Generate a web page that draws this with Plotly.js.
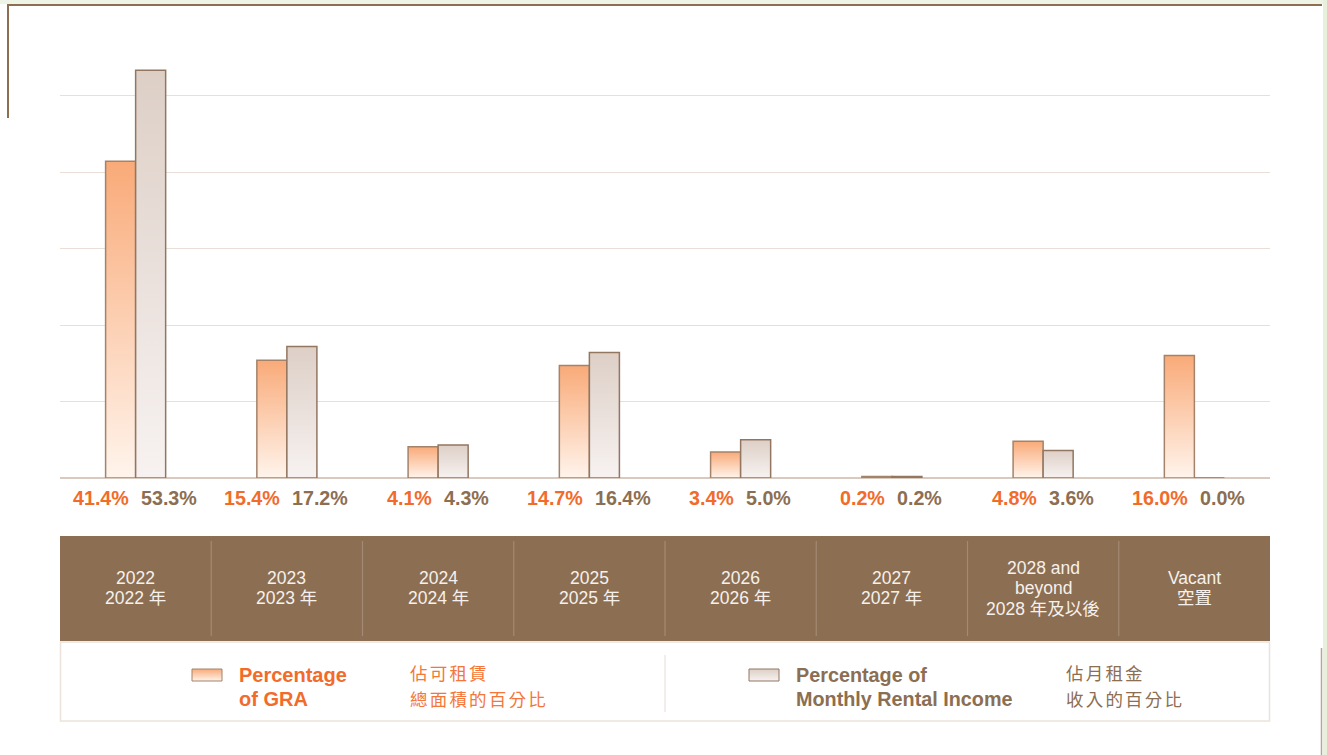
<!DOCTYPE html>
<html>
<head>
<meta charset="utf-8">
<script src="https://cdn.plot.ly/plotly-3.0.1.min.js"></script>
<style>
  html, body { margin: 0; padding: 0; background: #ffffff; }
  #chart { width: 1327px; height: 755px; }
</style>
</head>
<body>
<div id="chart"></div>
<script>
// ---- data ----
const categories = ['2022', '2023', '2024', '2025', '2026', '2027', '2028+', 'Vacant'];
const tableLabels = [
  '2022<br>2022 年',
  '2023<br>2023 年',
  '2024<br>2024 年',
  '2025<br>2025 年',
  '2026<br>2026 年',
  '2027<br>2027 年',
  '2028 and<br>beyond<br>2028 年及以後',
  'Vacant<br>空置'
];
const graPct = [41.4, 15.4, 4.1, 14.7, 3.4, 0.2, 4.8, 16.0];
const rentPct = [53.3, 17.2, 4.3, 16.4, 5.0, 0.2, 3.6, 0.0];
const legendGRA = 'Percentage<br>of GRA';
const legendGRAzh = '佔可租賃<br>總面積的百分比';
const legendRent = 'Percentage of<br>Monthly Rental Income';
const legendRentzh = '佔月租金<br>收入的百分比';

// ---- layout helpers (pixel -> paper) ----
const PL = 60, PR = 1270, PT = 40, PB = 478;
const px = x => (x - PL) / (PR - PL);
const py = y => (PB - y) / (PB - PT);

const ORANGE = '#F26B2A';
const BROWN = '#8C6E52';
const FONT = '"Liberation Sans", Arial, "Noto Sans CJK TC", sans-serif';
const CJK = '"Noto Sans CJK TC", "Liberation Sans", sans-serif';

const data = [
  { type: 'bar', x: categories, y: graPct, name: 'GRA',
    marker: { color: '#FBC9A6', line: { color: '#A4836A', width: 1.5 } },
    hoverinfo: 'skip' },
  { type: 'bar', x: categories, y: rentPct, name: 'Rent',
    marker: { color: '#E9DFD9', line: { color: '#937660', width: 1.5 } },
    hoverinfo: 'skip' }
];

const annotations = [];
categories.forEach((c, i) => {
  annotations.push({ x: i, y: 0, xref: 'x', yref: 'y', yshift: -20, xshift: -4.5, xanchor: 'right',
    text: graPct[i].toFixed(1) + '%', showarrow: false,
    font: { family: FONT, size: 19.7, color: ORANGE, weight: 'bold' } });
  annotations.push({ x: i, y: 0, xref: 'x', yref: 'y', yshift: -20, xshift: 3.5, xanchor: 'left',
    text: rentPct[i].toFixed(1) + '%', showarrow: false,
    font: { family: FONT, size: 19.7, color: BROWN, weight: 'bold' } });
  const lines = tableLabels[i].split('<br>');
  const lh = 20.5;
  const start = 588 - (lines.length - 1) * lh / 2;
  lines.forEach((ln, j) => {
    annotations.push({ x: i, y: py(start + j * lh), xref: 'x', yref: 'paper', yanchor: 'middle',
      text: ln, showarrow: false,
      font: { family: FONT, size: 17.5, color: '#F6F1EC' } });
  });
});

const spacedIdx = [];
function legendText(txt, xPix, yPixes, font, spaced) {
  txt.split('<br>').forEach((ln, j) => {
    if (spaced) spacedIdx.push(annotations.length);
    annotations.push({ x: px(xPix), y: py(yPixes[j]), xref: 'paper', yref: 'paper',
      xanchor: 'left', yanchor: 'middle', align: 'left', text: ln, showarrow: false, font: font });
  });
}
legendText(legendGRA, 237, [675, 699], { family: FONT, size: 20, color: ORANGE, weight: 'bold' }, false);
legendText(legendGRAzh, 408, [672, 698], { family: CJK, size: 17.5, color: '#F4773A' }, true);
legendText(legendRent, 794, [675, 699], { family: FONT, size: 19.8, color: BROWN, weight: 'bold' }, false);
legendText(legendRentzh, 1064, [672, 698], { family: CJK, size: 17.5, color: BROWN }, true);

const shapes = [];
// brown table band
shapes.push({ type: 'rect', xref: 'paper', yref: 'paper', x0: px(60), x1: px(1270), y0: py(641), y1: py(536),
  fillcolor: '#8C6E52', line: { width: 0 } });
for (let k = 1; k < categories.length; k++) {
  const xx = PL + (PR - PL) / categories.length * k;
  shapes.push({ type: 'line', xref: 'paper', yref: 'paper', x0: px(xx), x1: px(xx), y0: py(636), y1: py(541),
    line: { color: '#A48A74', width: 1.2 } });
}
// legend box
shapes.push({ type: 'rect', xref: 'paper', yref: 'paper', x0: px(60.5), x1: px(1269.5), y0: py(721), y1: py(642),
  fillcolor: 'rgba(0,0,0,0)', line: { color: '#ECE3DD', width: 1.5 } });
shapes.push({ type: 'line', xref: 'paper', yref: 'paper', x0: px(665), x1: px(665), y0: py(712), y1: py(655),
  line: { color: '#E6DDD7', width: 1 } });
// legend swatches
shapes.push({ type: 'rect', xref: 'paper', yref: 'paper', x0: px(192), x1: px(222), y0: py(681), y1: py(669),
  fillcolor: 'rgb(250, 171, 121)', line: { color: '#A4836A', width: 1 } });
shapes.push({ type: 'rect', xref: 'paper', yref: 'paper', x0: px(749), x1: px(779), y0: py(681), y1: py(669),
  fillcolor: 'rgb(222, 209, 200)', line: { color: '#937660', width: 1 } });
// page frame decorations
shapes.push({ type: 'rect', xref: 'paper', yref: 'paper', x0: px(0), x1: px(1327), y0: py(4), y1: py(0),
  fillcolor: '#EEF4E6', line: { width: 0 }, layer: 'below' });
shapes.push({ type: 'rect', xref: 'paper', yref: 'paper', x0: px(1323), x1: px(1327), y0: py(755), y1: py(0),
  fillcolor: '#E6F0DA', line: { width: 0 }, layer: 'below' });
shapes.push({ type: 'line', xref: 'paper', yref: 'paper', x0: px(7), x1: px(1322), y0: py(5), y1: py(5),
  line: { color: '#8C6E52', width: 2 } });
shapes.push({ type: 'line', xref: 'paper', yref: 'paper', x0: px(8), x1: px(8), y0: py(5), y1: py(118),
  line: { color: '#8C6E52', width: 2 } });
shapes.push({ type: 'line', xref: 'paper', yref: 'paper', x0: px(1321.5), x1: px(1321.5), y0: py(648), y1: py(755),
  line: { color: '#B8A494', width: 1.5 } });

const layout = {
  width: 1327, height: 755,
  margin: { l: PL, r: 1327 - PR, t: PT, b: 755 - PB, pad: 0 },
  paper_bgcolor: '#ffffff', plot_bgcolor: 'rgba(0,0,0,0)',
  barmode: 'group', bargap: 0.603, bargroupgap: 0,
  showlegend: false,
  xaxis: { type: 'category', showticklabels: false, showgrid: false, zeroline: false, showline: false, ticks: '',
    range: [-0.5, categories.length - 0.5], fixedrange: true },
  yaxis: { range: [0, (PB - PT) / 7.65], showticklabels: false, ticks: '', showline: false,
    dtick: 10, tick0: 0, showgrid: true, gridcolor: '#EADFD8', gridwidth: 1,
    zeroline: true, zerolinecolor: '#D9CABF', zerolinewidth: 1.5, fixedrange: true },
  annotations: annotations,
  shapes: shapes
};

Plotly.newPlot('chart', data, layout, { displayModeBar: false, staticPlot: true }).then(gd => {
  const ns = 'http://www.w3.org/2000/svg';
  const svg = gd.querySelector('.main-svg');
  let defs = svg.querySelector('defs');
  if (!defs) { defs = document.createElementNS(ns, 'defs'); svg.insertBefore(defs, svg.firstChild); }
  function mk(id, c1, c2) {
    const lg = document.createElementNS(ns, 'linearGradient');
    lg.setAttribute('id', id);
    lg.setAttribute('x1', '0'); lg.setAttribute('y1', '0');
    lg.setAttribute('x2', '0'); lg.setAttribute('y2', '1');
    [[0, c1], [1, c2]].forEach(([o, c]) => {
      const s = document.createElementNS(ns, 'stop');
      s.setAttribute('offset', o); s.setAttribute('stop-color', c);
      lg.appendChild(s);
    });
    defs.appendChild(lg);
  }
  mk('gradO', '#F9AA78', '#FFF4EC');
  mk('gradG', '#DDCFC6', '#F7F2F1');
  const ids = ['gradO', 'gradG'];
  gd.querySelectorAll('.barlayer .trace').forEach((t, i) => {
    t.querySelectorAll('path').forEach(p => { p.style.fill = 'url(#' + ids[i] + ')'; });
  });
  gd.querySelectorAll('.shapelayer path').forEach(p => {
    const f = p.style.fill || '';
    if (f.indexOf('250, 171, 121') >= 0) p.style.fill = 'url(#gradO)';
    if (f.indexOf('222, 209, 200') >= 0) p.style.fill = 'url(#gradG)';
  });
  const annEls = gd.querySelectorAll('.annotation');
  spacedIdx.forEach(k => {
    const el = annEls[k];
    if (el) el.querySelectorAll('text').forEach(t => { t.style.letterSpacing = '2.2px'; });
  });
});
</script>
</body>
</html>
